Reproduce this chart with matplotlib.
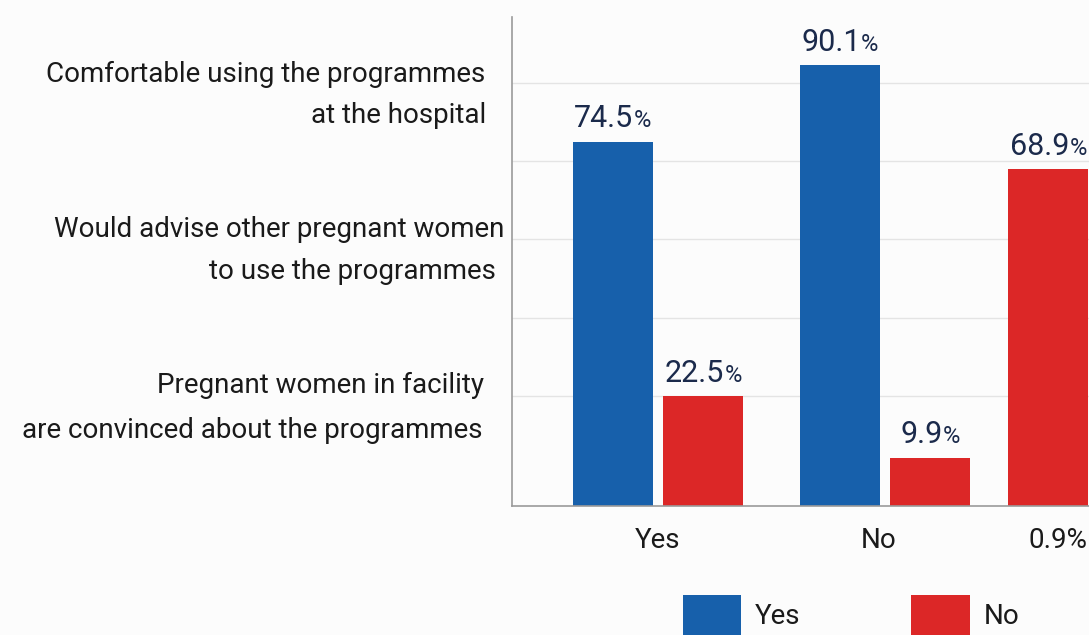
import matplotlib
matplotlib.use("Agg")
import matplotlib.pyplot as plt
import numpy as np
from matplotlib.patches import Patch
from matplotlib.offsetbox import TextArea, HPacker, AnnotationBbox

# ---- data -------------------------------------------------------------
categories = ["Yes", "No", "0.9%"]
yes_values = [74.5, 90.1]            # first two groups only
no_values = [22.5, 9.9, 68.9]
row_labels = [
    "Comfortable using the programmes\nat the hospital",
    "Would advise other pregnant women\nto use the programmes",
    "Pregnant women in facility\nare convinced about the programmes",
]
legend_labels = ["Yes", "No"]

# ---- style ------------------------------------------------------------
BLUE = "#1760ab"
RED = "#dc2727"
NAVY = "#1b2a4b"
TEXT = "#1a1a1a"
BG = "#fcfcfc"
FONT = "Roboto"

plt.rcParams["font.family"] = [FONT, "DejaVu Sans"]

W, H = 1089, 635
fig = plt.figure(figsize=(W / 100, H / 100), dpi=100, facecolor=BG)

ax_left, ax_right, ax_top, ax_bottom = 512, 1105, 17, 506
ax = fig.add_axes([ax_left / W, 1 - ax_bottom / H,
                   (ax_right - ax_left) / W, (ax_bottom - ax_top) / H])
ax.set_facecolor(BG)

# group geometry (x in group units)
group_x = np.array([0.0, 1.0, 1.52])
tick_x = [0.0, 0.97, 1.76]
bar_w = 0.352
off = 0.2
px_per_unit = 227
ax.set_xlim((ax_left - 658) / px_per_unit, (ax_right - 658) / px_per_unit)
ax.set_ylim(0, 100)

# light horizontal guides
for gy in np.arange(22.5, 90, 16):
    ax.axhline(gy, color="#e4e4e4", lw=1.0, zorder=0)

yes_x = group_x[:len(yes_values)] - off
no_x = group_x + off
ax.bar(yes_x, yes_values, width=bar_w, color=BLUE, zorder=2)
ax.bar(no_x, no_values, width=bar_w, color=RED, zorder=2)


def value_label(x, v):
    num = TextArea(f"{v:.1f}", textprops=dict(size=22, color=NAVY, family=FONT))
    pct = TextArea("%", textprops=dict(size=17, color=NAVY, family=FONT))
    box = HPacker(children=[num, pct], align="baseline", pad=0, sep=0)
    ab = AnnotationBbox(box, (x, v), xybox=(0, 6), xycoords="data",
                        boxcoords="offset points", box_alignment=(0.5, 0),
                        frameon=False, annotation_clip=False, zorder=3)
    ax.add_artist(ab)


for x, v in zip(yes_x, yes_values):
    value_label(x, v)
for x, v in zip(no_x, no_values):
    value_label(x, v)

# axes styling
for s in ("top", "right"):
    ax.spines[s].set_visible(False)
for s in ("left", "bottom"):
    ax.spines[s].set_color("#9a9a9a")
    ax.spines[s].set_linewidth(1.2)
ax.set_yticks([])
ax.set_xticks(tick_x)
ax.set_xticklabels(categories, fontsize=20, color=TEXT)
ax.tick_params(axis="x", length=0, pad=15)

# row descriptions on the left
line_baselines = [(82, 123), (237, 279), (393, 438)]
line_rights = [(485, 486), (504, 496), (484, 483)]
for label, ys, xs in zip(row_labels, line_baselines, line_rights):
    for line, y, xr in zip(label.split("\n"), ys, xs):
        fig.text(xr / W, 1 - y / H, line, ha="right", va="baseline",
                 fontsize=20, color=TEXT)

# legend
handles = [Patch(facecolor=BLUE), Patch(facecolor=RED)]
fig.legend(handles, legend_labels, ncol=2, loc="center left",
           bbox_to_anchor=(683 / W, 1 - 615 / H), frameon=False,
           fontsize=20, labelcolor=TEXT, handlelength=2.1, handleheight=1.8,
           handletextpad=0.5, columnspacing=3.98, borderpad=0, borderaxespad=0)

fig.savefig("out.png", dpi=100, facecolor=BG)
